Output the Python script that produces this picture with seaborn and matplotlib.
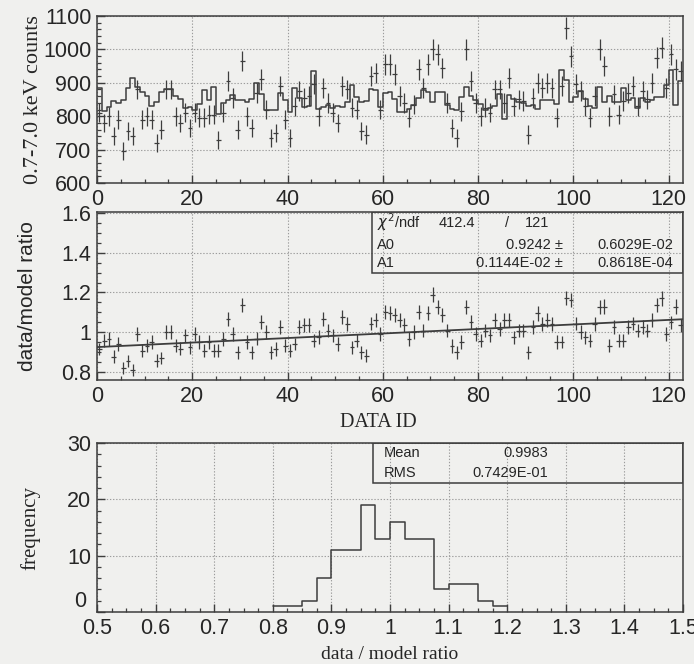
import numpy as np
import pandas as pd
import seaborn as sns
import matplotlib.pyplot as plt
from matplotlib.ticker import MultipleLocator, FuncFormatter
from matplotlib.patches import Rectangle

# ---- data ---------------------------------------------------------------
data_id = np.arange(123)

# 0.7-7.0 keV counts per observation
counts = np.array([
    810, 780, 800, 740, 790, 695, 755, 740, 880, 790,
    800, 790, 720, 760, 880, 880, 800, 780, 810, 765,
    810, 795, 795, 805, 805, 730, 810, 905, 855, 760,
    965, 800, 765, 870, 910, 820, 735, 750, 890, 790,
    735, 830, 875, 855, 860, 895, 800, 885, 840, 810,
    780, 890, 880, 825, 820, 755, 745, 920, 930, 820,
    955, 955, 925, 860, 840, 795, 835, 940, 885, 955,
    1000, 985, 945, 840, 765, 735, 815, 1000, 905, 840,
    800, 825, 810, 880, 880, 840, 915, 830, 850, 845,
    745, 855, 900, 885, 900, 885, 795, 890, 1065, 980,
    895, 875, 830, 795, 860, 1000, 950, 800, 865, 805,
    845, 870, 890, 830, 875, 850, 900, 975, 1005, 885,
    985, 940, 935,
])

# data / model ratio per observation
ratio = np.array([
    0.915, 0.957, 0.966, 0.875, 0.940, 0.820, 0.855, 0.810, 0.990, 0.906,
    0.930, 0.950, 0.855, 0.870, 1.000, 1.000, 0.930, 0.915, 0.983, 0.923,
    0.990, 0.950, 0.906, 0.950, 0.906, 0.906, 0.966, 1.068, 0.990, 0.897,
    1.137, 0.950, 0.897, 0.966, 1.050, 1.000, 0.897, 0.915, 1.025, 0.930,
    0.906, 0.940, 1.025, 1.034, 1.034, 0.957, 0.974, 1.068, 1.008, 0.983,
    0.940, 1.077, 1.043, 0.923, 0.957, 0.897, 0.880, 1.043, 1.060, 0.990,
    1.100, 1.094, 1.085, 1.060, 1.034, 0.966, 1.000, 1.100, 1.008, 1.094,
    1.188, 1.128, 1.085, 1.008, 0.930, 0.897, 0.950, 1.128, 1.050, 0.990,
    0.957, 1.008, 0.983, 1.060, 1.017, 1.060, 1.060, 0.974, 1.008, 1.008,
    0.897, 1.025, 1.094, 1.043, 1.060, 1.043, 0.950, 0.950, 1.171, 1.162,
    1.043, 1.000, 0.974, 0.957, 1.043, 1.128, 1.128, 0.930, 1.025, 0.957,
    0.957, 1.025, 1.043, 1.008, 1.025, 1.008, 1.060, 1.137, 1.171, 0.990,
    1.050, 1.128, 1.034,
])

# linear fit of the ratio: A0 + A1 * id
fit_a0, fit_a0_err = 0.9242, "0.6029E-02"
fit_a1, fit_a1_err = 0.1144e-02, "0.8618E-04"
fit_chi2, fit_ndf = "412.4", "121"

# distribution of the ratio
hist_edges = [round(0.800 + 0.025 * k, 3) for k in range(17)]
hist_counts = [1, 1, 2, 6, 11, 11, 19, 13, 16, 13, 13, 4, 5, 5, 2, 1]
ratio_mean, ratio_rms = "0.9983", "0.7429E-01"

# ---- style ----------------------------------------------------------------
BG = "#f0f0ee"
INK = "#3d3d3d"
TXT = "#262626"
GRID = "#9c9c9c"

sns.set_theme(style="ticks")
plt.rcParams.update({
    "font.family": ["Liberation Sans", "DejaVu Sans"],
    "figure.facecolor": BG,
    "axes.facecolor": BG,
    "axes.edgecolor": INK,
    "axes.linewidth": 1.1,
    "xtick.direction": "in",
    "ytick.direction": "in",
    "xtick.color": INK,
    "ytick.color": INK,
    "xtick.labelcolor": TXT,
    "ytick.labelcolor": TXT,
    "xtick.labelsize": 15.5,
    "ytick.labelsize": 15.5,
    "xtick.major.size": 6,
    "ytick.major.size": 6,
    "xtick.minor.size": 3,
    "ytick.minor.size": 3,
    "xtick.major.width": 1.0,
    "ytick.major.width": 1.0,
    "xtick.minor.width": 0.9,
    "ytick.minor.width": 0.9,
    "xtick.major.pad": 4,
    "ytick.major.pad": 4,
})

SERIF = ["Liberation Serif", "DejaVu Serif"]
NARROW = ["Liberation Sans Narrow", "Liberation Sans", "DejaVu Sans"]

fig = plt.figure(figsize=(6.94, 6.64), dpi=100)
W, H = 694.0, 664.0


def panel(top, bottom):
    return fig.add_axes([97 / W, 1 - bottom / H, 586 / W, (bottom - top) / H])


ax1 = panel(16, 183)
ax2 = panel(211.7, 380)
ax3 = panel(443, 612)

df = pd.DataFrame({
    "x": data_id + 0.5,
    "counts": counts,
    "ratio": ratio,
    "model": counts / ratio,
})


def grid(ax):
    ax.grid(True, which="major", linestyle=(0, (1.2, 1.6)), color=GRID, linewidth=0.8)
    ax.set_axisbelow(True)


# ---- top: counts and model ------------------------------------------------
sns.histplot(data=df, x="x", weights="model", bins=list(range(124)),
             element="step", fill=False, color=INK, linewidth=1.1, ax=ax1)
ax1.errorbar(df["x"], df["counts"], yerr=np.sqrt(df["counts"]), xerr=0.5,
             fmt="none", ecolor=INK, elinewidth=0.9, capsize=0)
ax1.set_xlim(0, 123)
ax1.set_ylim(600, 1100)
ax1.xaxis.set_major_locator(MultipleLocator(20))
ax1.xaxis.set_minor_locator(MultipleLocator(5))
ax1.yaxis.set_major_locator(MultipleLocator(100))
ax1.yaxis.set_minor_locator(MultipleLocator(20))
grid(ax1)
ax1.set_xlabel("")
ax1.set_ylabel("0.7-7.0 keV counts", family=SERIF, fontsize=16, color=TXT, va="center")
ax1.yaxis.set_label_coords(-0.108, 0.5)

# ---- middle: ratio and linear fit -----------------------------------------
ax2.errorbar(df["x"], df["ratio"], yerr=df["ratio"] / np.sqrt(df["counts"]), xerr=0.5,
             fmt="none", ecolor=INK, elinewidth=0.9, capsize=0)
fit_x = np.array([0.0, 123.0])
sns.lineplot(x=fit_x, y=fit_a0 + fit_a1 * fit_x, color=INK, linewidth=1.3, ax=ax2)
ax2.set_xlim(0, 123)
ax2.set_ylim(0.758, 1.608)
ax2.xaxis.set_major_locator(MultipleLocator(20))
ax2.xaxis.set_minor_locator(MultipleLocator(5))
ax2.yaxis.set_major_locator(MultipleLocator(0.2))
ax2.yaxis.set_minor_locator(MultipleLocator(0.05))
ax2.yaxis.set_major_formatter(FuncFormatter(lambda v, p: f"{v:g}"))
grid(ax2)
ax2.set_ylabel("data/model ratio", fontsize=15, color=TXT, va="center")
ax2.yaxis.set_label_coords(-0.118, 0.5)
ax2.set_xlabel("DATA ID", family=SERIF, fontsize=14.5, color=TXT, va="center")
ax2.xaxis.set_label_coords(0.48, -0.25)

box2 = Rectangle((0.469, 0.636), 0.531, 0.364, transform=ax2.transAxes,
                 fill=False, edgecolor=INK, linewidth=1.1, zorder=5)
ax2.add_patch(box2)
st = dict(transform=ax2.transAxes, fontsize=10.5, color=TXT, family=NARROW, va="center")
ax2.text(0.478, 0.935, r"$\chi^{2}$/ndf", **st)
ax2.text(0.614, 0.935, fit_chi2, ha="center", **st)
ax2.text(0.700, 0.935, "/", ha="center", **st)
ax2.text(0.730, 0.935, fit_ndf, ha="left", **st)
ax2.text(0.478, 0.802, "A0", **st)
ax2.text(0.795, 0.802, f"{fit_a0:.4f} \u00b1", ha="right", **st)
ax2.text(0.983, 0.802, fit_a0_err, ha="right", **st)
ax2.text(0.478, 0.693, "A1", **st)
ax2.text(0.795, 0.693, "0.1144E-02 \u00b1", ha="right", **st)
ax2.text(0.983, 0.693, fit_a1_err, ha="right", **st)

# ---- bottom: distribution of the ratio --------------------------------------
centers = [(a + b) / 2 for a, b in zip(hist_edges[:-1], hist_edges[1:])]
sns.histplot(x=centers, weights=hist_counts, bins=hist_edges, element="step",
             fill=False, color=INK, linewidth=1.1, ax=ax3)
ax3.set_xlim(0.5, 1.5)
ax3.set_ylim(0, 30)
ax3.xaxis.set_major_locator(MultipleLocator(0.1))
ax3.xaxis.set_minor_locator(MultipleLocator(0.025))
ax3.yaxis.set_major_locator(MultipleLocator(10))
ax3.yaxis.set_minor_locator(MultipleLocator(2))
ax3.xaxis.set_major_formatter(FuncFormatter(lambda v, p: f"{v:g}"))
# the "0" of the frequency axis sits raised, above the x tick labels
ax3.yaxis.set_major_formatter(FuncFormatter(lambda v, p: "" if v == 0 else f"{v:g}"))
ax3.text(-0.018, 0.0, "0", transform=ax3.transAxes, ha="right", va="bottom",
         fontsize=15.5, color=TXT)
grid(ax3)
ax3.set_ylabel("frequency", family=SERIF, fontsize=15, color=TXT, va="center")
ax3.yaxis.set_label_coords(-0.114, 0.5)
ax3.set_xlabel("data / model ratio", family=SERIF, fontsize=14, color=TXT, va="center")
ax3.xaxis.set_label_coords(0.5, -0.254)

box3 = Rectangle((0.471, 0.763), 0.529, 0.237, transform=ax3.transAxes,
                 fill=False, edgecolor=INK, linewidth=1.1, zorder=5)
ax3.add_patch(box3)
st3 = dict(transform=ax3.transAxes, fontsize=10.5, color=TXT, family=NARROW, va="center")
ax3.text(0.490, 0.941, "Mean", **st3)
ax3.text(0.770, 0.941, ratio_mean, ha="right", **st3)
ax3.text(0.490, 0.822, "RMS", **st3)
ax3.text(0.770, 0.822, ratio_rms, ha="right", **st3)

for ax in (ax1, ax2, ax3):
    for side in ("top", "right"):
        ax.spines[side].set_visible(True)

fig.savefig("out.png", dpi=100, facecolor=BG)
